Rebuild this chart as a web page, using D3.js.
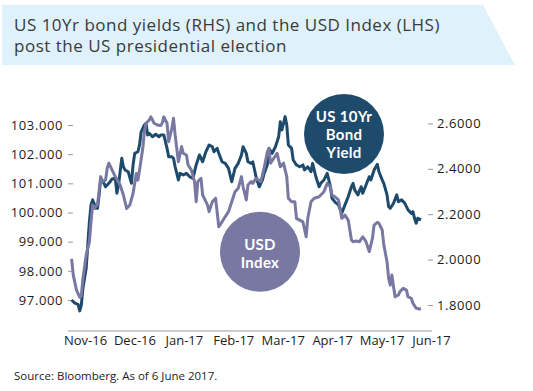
<!DOCTYPE html>
<html>
<head>
<meta charset="utf-8">
<script src="https://cdn.jsdelivr.net/npm/d3@7"></script>
<style>
  body { margin: 0; background: #fff; }
  svg { display: block; font-family: "Open Sans", sans-serif; }
</style>
</head>
<body>
<svg id="chart" width="533" height="391"></svg>
<script>
// USD Index (left axis)
const usdIndex = [
  ['2016-11-02', 98.41], ['2016-11-03', 97.86], ['2016-11-05', 97.34], ['2016-11-07', 97.10],
  ['2016-11-08', 97.14], ['2016-11-09', 97.74], ['2016-11-11', 98.54], ['2016-11-13', 99.00],
  ['2016-11-14', 99.68], ['2016-11-15', 100.26], ['2016-11-16', 100.15], ['2016-11-18', 100.26],
  ['2016-11-20', 101.23], ['2016-11-21', 101.06], ['2016-11-23', 101.11], ['2016-11-24', 101.52],
  ['2016-11-25', 101.69], ['2016-11-27', 101.46], ['2016-11-29', 101.23], ['2016-12-02', 100.94],
  ['2016-12-04', 100.60], ['2016-12-06', 100.14], ['2016-12-08', 100.26], ['2016-12-10', 100.66],
  ['2016-12-12', 101.34], ['2016-12-13', 101.11], ['2016-12-14', 101.46], ['2016-12-16', 102.20],
  ['2016-12-17', 102.77], ['2016-12-18', 103.06], ['2016-12-20', 103.17], ['2016-12-21', 103.28],
  ['2016-12-23', 103.06], ['2016-12-25', 103.00], ['2016-12-27', 102.98], ['2016-12-28', 103.06],
  ['2016-12-29', 103.28], ['2016-12-31', 103.06], ['2017-01-01', 102.43], ['2017-01-03', 102.89],
  ['2017-01-04', 103.23], ['2017-01-05', 102.66], ['2017-01-07', 101.74], ['2017-01-09', 102.26],
  ['2017-01-10', 102.03], ['2017-01-12', 101.97], ['2017-01-13', 101.63], ['2017-01-15', 101.46],
  ['2017-01-17', 101.06], ['2017-01-18', 100.37], ['2017-01-19', 101.06], ['2017-01-21', 101.17],
  ['2017-01-22', 100.60], ['2017-01-24', 100.37], ['2017-01-25', 100.26], ['2017-01-26', 100.03],
  ['2017-01-28', 100.37], ['2017-01-30', 100.49], ['2017-02-01', 99.51], ['2017-02-03', 99.68],
  ['2017-02-05', 99.86], ['2017-02-07', 100.03], ['2017-02-09', 100.37], ['2017-02-11', 100.71],
  ['2017-02-13', 100.83], ['2017-02-15', 101.23], ['2017-02-16', 100.88], ['2017-02-18', 100.43],
  ['2017-02-19', 100.94], ['2017-02-21', 101.06], ['2017-02-22', 101.00], ['2017-02-24', 101.17],
  ['2017-02-27', 101.06], ['2017-03-01', 101.52], ['2017-03-03', 102.08], ['2017-03-04', 102.20],
  ['2017-03-05', 101.69], ['2017-03-07', 101.86], ['2017-03-09', 102.03], ['2017-03-11', 101.57],
  ['2017-03-13', 101.69], ['2017-03-15', 101.23], ['2017-03-16', 100.49], ['2017-03-18', 100.37],
  ['2017-03-20', 100.37], ['2017-03-21', 99.80], ['2017-03-23', 99.74], ['2017-03-25', 99.68],
  ['2017-03-27', 99.17], ['2017-03-28', 99.80], ['2017-03-30', 100.37], ['2017-04-01', 100.49],
  ['2017-04-04', 100.54], ['2017-04-07', 100.71], ['2017-04-09', 101.00], ['2017-04-11', 100.88],
  ['2017-04-12', 100.60], ['2017-04-14', 100.53], ['2017-04-16', 100.43], ['2017-04-18', 99.80],
  ['2017-04-20', 99.91], ['2017-04-22', 99.74], ['2017-04-24', 99.06], ['2017-04-25', 99.00],
  ['2017-04-27', 99.02], ['2017-04-29', 99.00], ['2017-05-01', 99.17], ['2017-05-03', 99.00],
  ['2017-05-05', 98.66], ['2017-05-07', 99.12], ['2017-05-08', 99.57], ['2017-05-10', 99.66],
  ['2017-05-11', 99.63], ['2017-05-13', 99.40], ['2017-05-14', 98.89], ['2017-05-16', 98.31],
  ['2017-05-17', 97.74], ['2017-05-18', 97.51], ['2017-05-19', 97.86], ['2017-05-20', 97.46],
  ['2017-05-21', 97.11], ['2017-05-23', 97.17], ['2017-05-24', 97.29], ['2017-05-26', 97.40],
  ['2017-05-28', 97.34], ['2017-05-29', 97.11], ['2017-05-31', 97.06], ['2017-06-01', 96.89],
  ['2017-06-03', 96.72], ['2017-06-05', 96.69], ['2017-06-06', 96.70]
];

// US 10Yr bond yield (right axis)
const bondYield = [
  ['2016-11-02', 1.822], ['2016-11-04', 1.808], ['2016-11-06', 1.803], ['2016-11-07', 1.774],
  ['2016-11-08', 1.800], ['2016-11-09', 1.874], ['2016-11-11', 1.962], ['2016-11-12', 2.065],
  ['2016-11-13', 2.167], ['2016-11-14', 2.241], ['2016-11-15', 2.263], ['2016-11-17', 2.226],
  ['2016-11-18', 2.226], ['2016-11-19', 2.285], ['2016-11-20', 2.358], ['2016-11-22', 2.336],
  ['2016-11-23', 2.321], ['2016-11-25', 2.336], ['2016-11-27', 2.355], ['2016-11-29', 2.358],
  ['2016-11-30', 2.292], ['2016-12-01', 2.329], ['2016-12-03', 2.446], ['2016-12-04', 2.409],
  ['2016-12-05', 2.395], ['2016-12-07', 2.387], ['2016-12-09', 2.336], ['2016-12-10', 2.417],
  ['2016-12-11', 2.468], ['2016-12-13', 2.475], ['2016-12-14', 2.505], ['2016-12-15', 2.563],
  ['2016-12-17', 2.593], ['2016-12-18', 2.600], ['2016-12-19', 2.549], ['2016-12-20', 2.556],
  ['2016-12-22', 2.541], ['2016-12-24', 2.552], ['2016-12-26', 2.541], ['2016-12-27', 2.549],
  ['2016-12-29', 2.549], ['2016-12-31', 2.490], ['2017-01-01', 2.453], ['2017-01-03', 2.453],
  ['2017-01-04', 2.446], ['2017-01-05', 2.409], ['2017-01-07', 2.351], ['2017-01-08', 2.380],
  ['2017-01-10', 2.373], ['2017-01-12', 2.380], ['2017-01-14', 2.365], ['2017-01-16', 2.358],
  ['2017-01-18', 2.417], ['2017-01-20', 2.461], ['2017-01-22', 2.431], ['2017-01-24', 2.475],
  ['2017-01-26', 2.505], ['2017-01-28', 2.497], ['2017-01-29', 2.475], ['2017-01-31', 2.490],
  ['2017-02-01', 2.468], ['2017-02-03', 2.431], ['2017-02-05', 2.424], ['2017-02-07', 2.402],
  ['2017-02-09', 2.343], ['2017-02-11', 2.402], ['2017-02-13', 2.424], ['2017-02-15', 2.461],
  ['2017-02-16', 2.497], ['2017-02-18', 2.468], ['2017-02-19', 2.431], ['2017-02-21', 2.424],
  ['2017-02-22', 2.431], ['2017-02-24', 2.365], ['2017-02-26', 2.321], ['2017-02-28', 2.351],
  ['2017-03-01', 2.380], ['2017-03-03', 2.417], ['2017-03-04', 2.490], ['2017-03-06', 2.468],
  ['2017-03-08', 2.497], ['2017-03-10', 2.541], ['2017-03-11', 2.607], ['2017-03-12', 2.571],
  ['2017-03-14', 2.630], ['2017-03-15', 2.593], ['2017-03-16', 2.505], ['2017-03-18', 2.490],
  ['2017-03-19', 2.439], ['2017-03-21', 2.417], ['2017-03-23', 2.409], ['2017-03-25', 2.417],
  ['2017-03-26', 2.395], ['2017-03-28', 2.409], ['2017-03-30', 2.387], ['2017-03-31', 2.424],
  ['2017-04-02', 2.365], ['2017-04-04', 2.321], ['2017-04-05', 2.336], ['2017-04-07', 2.351],
  ['2017-04-09', 2.380], ['2017-04-10', 2.351], ['2017-04-11', 2.321], ['2017-04-12', 2.270],
  ['2017-04-14', 2.252], ['2017-04-16', 2.241], ['2017-04-18', 2.204], ['2017-04-20', 2.241],
  ['2017-04-22', 2.277], ['2017-04-24', 2.321], ['2017-04-25', 2.336], ['2017-04-26', 2.307],
  ['2017-04-28', 2.285], ['2017-04-30', 2.321], ['2017-05-01', 2.292], ['2017-05-03', 2.329],
  ['2017-05-05', 2.365], ['2017-05-06', 2.351], ['2017-05-08', 2.395], ['2017-05-10', 2.420],
  ['2017-05-11', 2.387], ['2017-05-13', 2.351], ['2017-05-14', 2.336], ['2017-05-16', 2.285],
  ['2017-05-17', 2.233], ['2017-05-18', 2.226], ['2017-05-20', 2.248], ['2017-05-22', 2.285],
  ['2017-05-23', 2.255], ['2017-05-25', 2.263], ['2017-05-27', 2.248], ['2017-05-29', 2.219],
  ['2017-05-31', 2.204], ['2017-06-01', 2.211], ['2017-06-02', 2.182], ['2017-06-03', 2.160],
  ['2017-06-04', 2.182], ['2017-06-06', 2.175]
];

const monthLabels = ['Nov-16', 'Dec-16', 'Jan-17', 'Feb-17', 'Mar-17', 'Apr-17', 'May-17', 'Jun-17'];
const usdTicks = [97, 98, 99, 100, 101, 102, 103];
const yieldTicks = [1.8, 2.0, 2.2, 2.4, 2.6];
const titleLines = ['US 10Yr bond yields (RHS) and the USD Index (LHS)',
                    'post the US presidential election'];
const usdBadge = ['USD', 'Index'];
const bondBadge = ['US 10Yr', 'Bond', 'Yield'];
const sourceNote = 'Source: Bloomberg. As of 6 June 2017.';

const usdColor = '#7878a2';
const bondColor = '#1e4a6c';

const svg = d3.select('#chart');
const parse = d3.timeParse('%Y-%m-%d');

const x = d3.scaleTime()
    .domain([parse('2016-11-01'), parse('2017-06-06')])
    .range([70, 421]);
// month labels sit evenly spaced, like a category axis
const xLabel = d3.scalePoint().domain(monthLabels).range([85, 431]);
const yLeft = d3.scaleLinear().domain([97, 103]).range([300, 125]);
const yRight = d3.scaleLinear().domain([1.8, 2.6]).range([305, 123.4]);

// title banner with slanted right edge
svg.append('polygon')
    .attr('points', [[2, 5], [483, 5], [515, 65], [2, 65]].join(' '))
    .attr('fill', '#dff1fb');

svg.append('text')
    .attr('x', 14)
    .attr('y', 31)
    .attr('fill', '#3a3a3a')
    .style('font-size', '17px')
    .style('letter-spacing', '0.5px')
    .selectAll('tspan')
    .data(titleLines)
    .enter()
    .append('tspan')
    .attr('x', 14)
    .attr('dy', (d, i) => (i ? 21 : 0))
    .text(d => d);

// axes
const leftAxis = svg.append('g')
    .attr('transform', 'translate(73,0)')
    .call(d3.axisLeft(yLeft).tickValues(usdTicks).tickFormat(d3.format('.3f')).tickSize(5).tickPadding(5));

const rightAxis = svg.append('g')
    .attr('transform', 'translate(428,0)')
    .call(d3.axisRight(yRight).tickValues(yieldTicks).tickFormat(d3.format('.4f')).tickSize(5).tickPadding(4));

const bottomAxis = svg.append('g')
    .attr('transform', 'translate(0,331)')
    .call(d3.axisBottom(xLabel).tickSize(0).tickPadding(5));

[leftAxis, rightAxis].forEach(g => {
    g.select('.domain').remove();
    g.selectAll('line').attr('stroke', '#9a9a9a');
    g.selectAll('text').style('letter-spacing', '0.6px');
});

bottomAxis.select('.domain').remove();
bottomAxis.append('line')
    .attr('x1', 68)
    .attr('x2', 432)
    .attr('stroke', '#9a9a9a');

[leftAxis, rightAxis, bottomAxis].forEach(g => {
    g.attr('font-family', null).attr('font-size', null);
    g.selectAll('text').attr('fill', '#1c1c1c').style('font-size', '13px');
});

// lines
const usdLine = d3.line()
    .x(d => x(parse(d[0])))
    .y(d => yLeft(d[1]));
const bondLine = d3.line()
    .x(d => x(parse(d[0])))
    .y(d => yRight(d[1]));

svg.append('path')
    .datum(bondYield)
    .attr('d', bondLine)
    .attr('fill', 'none')
    .attr('stroke', bondColor)
    .attr('stroke-width', 3)
    .attr('stroke-linejoin', 'round');

svg.append('path')
    .datum(usdIndex)
    .attr('d', usdLine)
    .attr('fill', 'none')
    .attr('stroke', usdColor)
    .attr('stroke-width', 3)
    .attr('stroke-linejoin', 'round');

// badges: one wrapped text per circle
function badge(cx, cy, fill, lines, firstBaseline, step) {
    const g = svg.append('g');
    g.append('circle')
        .attr('cx', cx)
        .attr('cy', cy)
        .attr('r', 40)
        .attr('fill', fill);
    g.append('text')
        .attr('x', cx)
        .attr('y', firstBaseline)
        .attr('text-anchor', 'middle')
        .attr('fill', '#fff')
        .style('font-family', 'Lato, sans-serif')
        .style('font-size', '15px')
        .style('font-weight', 'bold')
        .style('letter-spacing', '0.3px')
        .selectAll('tspan')
        .data(lines)
        .enter()
        .append('tspan')
        .attr('x', cx)
        .attr('dy', (d, i) => (i ? step : 0))
        .text(d => d);
}

badge(260, 251.7, usdColor, usdBadge, 250, 18);
badge(344, 134, bondColor, bondBadge, 121.5, 18);

svg.append('text')
    .attr('x', 14)
    .attr('y', 380)
    .attr('fill', '#1c1c1c')
    .style('font-size', '11.5px')
    .text(sourceNote);
</script>
</body>
</html>
